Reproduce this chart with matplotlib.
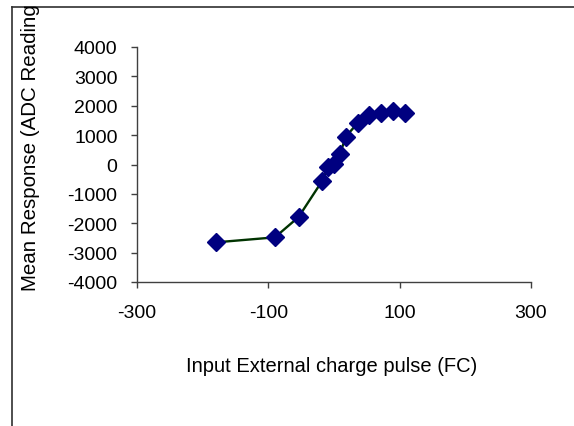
import numpy as np
import matplotlib.pyplot as plt
from matplotlib.lines import Line2D

plt.rcParams['font.family'] = ['Liberation Sans', 'DejaVu Sans']
plt.rcParams['axes.unicode_minus'] = False

# charge pulse (fC) and mean ADC response
charge = [-180, -90, -54, -18, -9, 0, 9, 18, 36, 54, 72, 90, 108]
response = [-2650, -2480, -1790, -560, -90, 20, 350, 950, 1410, 1680, 1750, 1810, 1750]

xticks = [-300, -100, 100, 300]
yticks = [-4000, -3000, -2000, -1000, 0, 1000, 2000, 3000, 4000]

fig = plt.figure(figsize=(5.74, 4.27), dpi=100)
ax = fig.add_axes([137/574, 1 - 283/427, (531 - 137)/574, (283 - 48)/427])

ax.plot(charge, response, color='#003300', lw=1.7, marker='D', ms=9,
        mfc='#000080', mec='#000080', zorder=3)

ax.set_xlim(-300, 300)
ax.set_ylim(-4000, 4000)
ax.set_xticks(xticks)
ax.set_yticks(yticks)
ax.tick_params(labelsize=14, direction='out', length=4, width=1, colors='#404040',
               labelcolor='black')
ax.tick_params(axis='x', pad=12)
ax.tick_params(axis='y', pad=10)
for s in ['top', 'right']:
    ax.spines[s].set_visible(False)
for s in ['left', 'bottom']:
    ax.spines[s].set_color('#404040')
    ax.spines[s].set_linewidth(1)

fig.text(332/574, 1 - 367/427, 'Input External charge pulse (FC)', ha='center', va='center',
         fontsize=14.5)
# label as visible in the source (closing bracket is hidden behind the frame there)
fig.text(31/574, 1 - 291/427, 'Mean Response (ADC Reading', rotation=90,
         ha='center', va='bottom', fontsize=14.8)

# outer frame (top and left edges visible)
fig.add_artist(Line2D([12/574, 1], [1 - 8/427, 1 - 8/427], color='#303030', lw=1.2))
fig.add_artist(Line2D([12/574, 12/574], [0, 1 - 8/427], color='#303030', lw=1.2))

fig.savefig('out.png', dpi=100)
